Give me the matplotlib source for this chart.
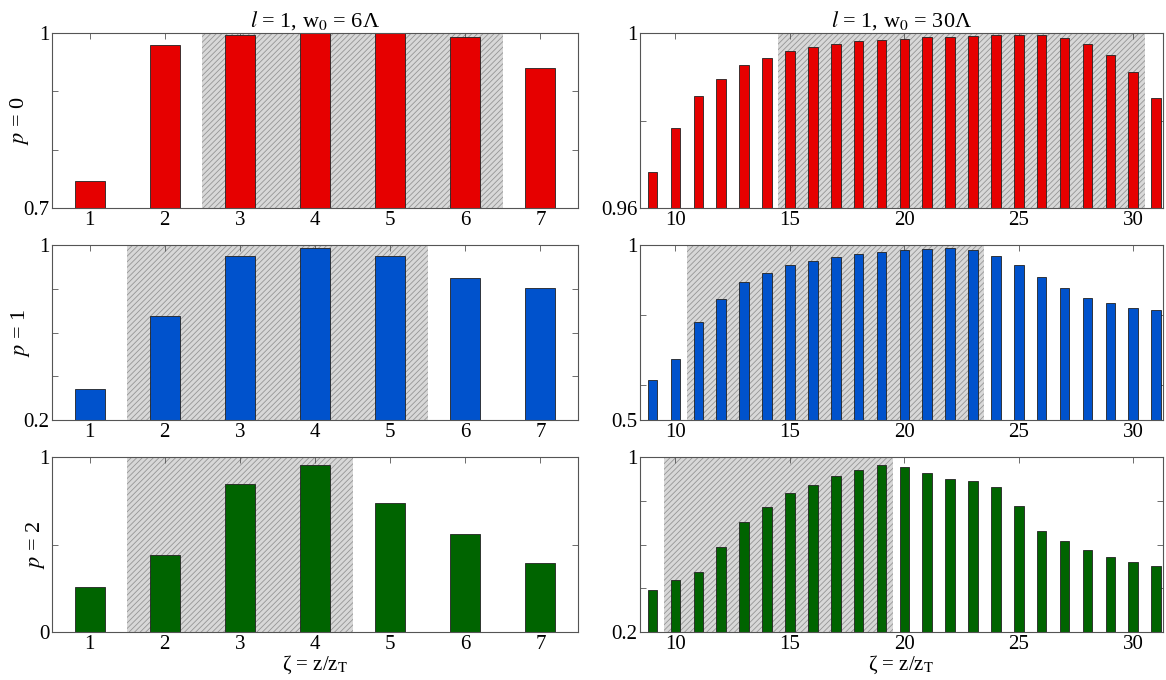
import matplotlib
matplotlib.use("Agg")
import matplotlib.pyplot as plt

plt.rcParams["font.family"] = ["Liberation Serif", "DejaVu Serif"]
plt.rcParams["mathtext.fontset"] = "stix"
plt.rcParams["hatch.linewidth"] = 0.6
plt.rcParams["hatch.color"] = "#959595"

# w0 = 6 Lambda (left column)
zeta_left = [1, 2, 3, 4, 5, 6, 7]
left_p0 = [0.746, 0.979, 0.997, 1.0, 1.0, 0.993, 0.940]
left_p1 = [0.340, 0.675, 0.951, 0.985, 0.951, 0.848, 0.802]
left_p2 = [0.258, 0.441, 0.845, 0.956, 0.740, 0.561, 0.394]

# w0 = 30 Lambda (right column)
zeta_right = list(range(9, 32))
right_p0 = [0.9683, 0.9782, 0.9857, 0.9894, 0.9928, 0.9943, 0.9960, 0.9967,
            0.9976, 0.9981, 0.9985, 0.9987, 0.9990, 0.9992, 0.9994, 0.9996,
            0.9996, 0.9995, 0.9989, 0.9975, 0.9949, 0.9910, 0.9851]
right_p1 = [0.614, 0.673, 0.781, 0.845, 0.893, 0.920, 0.943, 0.954, 0.967,
            0.974, 0.980, 0.986, 0.990, 0.992, 0.986, 0.970, 0.943, 0.908,
            0.876, 0.849, 0.833, 0.821, 0.814]
right_p2 = [0.390, 0.440, 0.475, 0.589, 0.702, 0.772, 0.834, 0.874, 0.913,
            0.942, 0.963, 0.956, 0.925, 0.900, 0.890, 0.863, 0.775, 0.664,
            0.615, 0.573, 0.542, 0.518, 0.500]

# shaded zeta ranges
shade_left = [(2.5, 6.5), (1.5, 5.5), (1.5, 4.5)]
shade_right = [(14.5, 30.5), (10.5, 23.5), (9.5, 19.5)]

ylims_left = [(0.7, 1.0), (0.2, 1.0), (0.0, 1.0)]
yticks_left = [[0.7, 0.8, 0.9, 1.0], [0.2, 0.4, 0.6, 0.8, 1.0], [0.0, 0.5, 1.0]]
ylabels_left = [["0.7", "", "", "1"], ["0.2", "", "", "", "1"], ["0", "", "1"]]

ylims_right = [(0.96, 1.0), (0.5, 1.0), (0.2, 1.0)]
yticks_right = [[0.96, 0.98, 1.0], [0.5, 0.6, 0.8, 1.0], [0.2, 0.4, 0.6, 0.8, 1.0]]
ylabels_right = [["0.96", "", "1"], ["0.5", "", "", "1"], ["0.2", "", "", "", "1"]]

colors = ["#e60000", "#0052cc", "#006400"]
row_labels = ["$p$ = 0", "$p$ = 1", "$p$ = 2"]

W, H = 1166, 680
fig = plt.figure(figsize=(W / 100, H / 100), dpi=100)

rows_px = [(33, 208), (245, 420), (457, 632)]
cols_px = [(52, 578), (640, 1163)]


def make_axes(col, row):
    x0, x1 = cols_px[col]
    y0, y1 = rows_px[row]
    return fig.add_axes([x0 / W, 1 - y1 / H, (x1 - x0) / W, (y1 - y0) / H])


def style(ax, ylim, yticks, ylabels):
    ax.set_ylim(*ylim)
    ax.set_yticks(yticks)
    ax.set_yticklabels(ylabels)
    ax.tick_params(direction="in", top=True, right=True, labelsize=15,
                   length=4, width=0.6, color="#555555", pad=2)
    for s in ax.spines.values():
        s.set_color("#555555")
        s.set_linewidth(0.8)


left_data = [left_p0, left_p1, left_p2]
right_data = [right_p0, right_p1, right_p2]

for r in range(3):
    ax = make_axes(0, r)
    a, b = shade_left[r]
    ax.axvspan(a, b, facecolor="#d8d8d8", edgecolor="#959595", hatch="//////",
               linewidth=0, zorder=0)
    ax.bar(zeta_left, left_data[r], width=0.4, bottom=0,
           color=colors[r], edgecolor="#222222", linewidth=0.6, zorder=2)
    ax.set_xlim(0.5, 7.5)
    ax.set_xticks(zeta_left)
    style(ax, ylims_left[r], yticks_left[r], ylabels_left[r])
    ax.set_ylabel(row_labels[r], fontsize=16, labelpad=-6)
    if r == 0:
        ax.set_title("$l$ = 1, w$_0$ = 6Λ", fontsize=16, pad=5)
    if r == 2:
        ax.set_xlabel(r"ζ = z/z$_\mathrm{T}$", fontsize=15, labelpad=0)

    ax = make_axes(1, r)
    a, b = shade_right[r]
    ax.axvspan(a, b, facecolor="#d8d8d8", edgecolor="#959595", hatch="//////",
               linewidth=0, zorder=0)
    ax.bar(zeta_right, right_data[r], width=0.42, bottom=0,
           color=colors[r], edgecolor="#222222", linewidth=0.6, zorder=2)
    ax.set_xlim(8.45, 31.3)
    ax.set_xticks([10, 15, 20, 25, 30])
    style(ax, ylims_right[r], yticks_right[r], ylabels_right[r])
    if r == 0:
        ax.set_title("$l$ = 1, w$_0$ = 30Λ", fontsize=16, pad=5)
    if r == 2:
        ax.set_xlabel(r"ζ = z/z$_\mathrm{T}$", fontsize=15, labelpad=0)

fig.savefig("out.png", dpi=100, facecolor="white")
